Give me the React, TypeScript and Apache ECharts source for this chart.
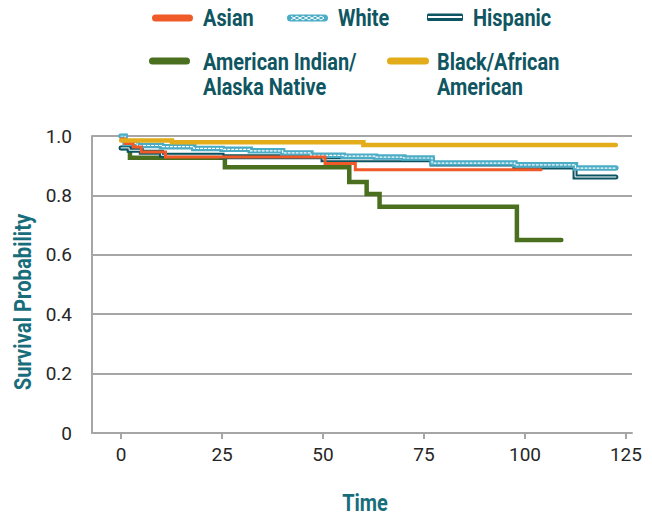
import React, { useEffect, useRef } from "react";
import * as echarts from "echarts";

// ---- data (time, survival probability) ----
const asian: [number, number][] = [
  [0, 0.99], [1, 0.975], [3, 0.963], [5, 0.946], [11, 0.929], [50.5, 0.907], [58, 0.886], [104, 0.886],
];
const white: [number, number][] = [
  [0, 1.0], [1, 0.975], [4, 0.968], [10, 0.964], [18, 0.958], [25, 0.955], [32, 0.95], [40, 0.943],
  [47, 0.935], [55, 0.932], [63, 0.929], [70, 0.926], [77, 0.909], [97.5, 0.903], [112.5, 0.892], [122.5, 0.892],
];
const hispanic: [number, number][] = [
  [0, 0.96], [2, 0.952], [5, 0.945], [10, 0.935], [25, 0.93], [50, 0.92], [77, 0.906], [97.5, 0.896],
  [112.4, 0.862], [122.5, 0.862],
];
const aian: [number, number][] = [
  [0, 0.96], [2.2, 0.927], [25.7, 0.895], [56.5, 0.845], [60.8, 0.805], [64, 0.762], [98, 0.65], [109, 0.65],
];
const black: [number, number][] = [
  [0, 0.985], [12.6, 0.979], [60, 0.97], [122.5, 0.97],
];
const xTicks = [0, 25, 50, 75, 100, 125];

const C_ASIAN = "#f05a28";
const C_WHITE = "#4bacc6";
const C_HISP = "#0b5563";
const C_AIAN = "#4a6f1e";
const C_BLACK = "#e2ac1a";
const C_LEG = "#0f5662";
const C_TITLE = "#186d7b";
const C_GRID = "#a6a6a6";

const legendFont = "bold 24px Roboto";
const SX = 0.83;

function legText(text: string, x: number, y: number, multi = false) {
  return {
    type: "text",
    x,
    y,
    scaleX: SX,
    style: {
      text,
      font: legendFont,
      fill: C_LEG,
      lineHeight: 25,
      align: "left",
      textAlign: "left",
      verticalAlign: multi ? "top" : "middle",
      textVerticalAlign: multi ? "top" : "middle",
    },
  };
}

function zig(x0: number, x1: number, cy: number, amp: number, step: number) {
  const pts: number[][] = [];
  let up = true;
  for (let x = x0; x <= x1 + 0.01; x += step / 2) {
    pts.push([x, up ? cy : cy + amp]);
    up = !up;
  }
  return pts;
}

function stepLine(name: string, data: [number, number][], color: string, width: number, extra: any = {}) {
  return {
    name,
    type: "line",
    step: "end",
    data,
    symbol: "none",
    silent: true,
    lineStyle: { color, width, cap: "round", join: "miter", ...extra },
  };
}

export default function App() {
  const ref = useRef<HTMLDivElement>(null);
  useEffect(() => {
    const chart = echarts.init(ref.current!, null, { renderer: "svg" });
    const option: any = {
      animation: false,
      textStyle: { fontFamily: "Roboto" },
      grid: { left: 92, right: 20, top: 136, bottom: 83, containLabel: false },
      xAxis: {
        type: "value",
        min: -7.2,
        max: 126.5,
        axisLine: { show: true, onZero: false, lineStyle: { color: C_GRID, width: 2 } },
        axisTick: { show: true, customValues: xTicks, length: 6, lineStyle: { color: C_GRID, width: 2 } },
        axisLabel: { customValues: xTicks, margin: 12, fontSize: 19, color: "#262626", fontFamily: "Roboto" },
        splitLine: { show: false },
      },
      yAxis: {
        type: "value",
        min: 0,
        max: 1,
        interval: 0.2,
        axisLine: { show: true, onZero: false, lineStyle: { color: C_GRID, width: 2 } },
        axisTick: { show: false },
        axisLabel: {
          margin: 20,
          fontSize: 19,
          color: "#262626",
          fontFamily: "Roboto",
          formatter: (v: number) => (v === 0 ? "0" : v.toFixed(1)),
        },
        splitLine: { show: true, lineStyle: { color: C_GRID, width: 2 } },
      },
      series: [
        stepLine("American Indian/Alaska Native", aian, C_AIAN, 4.5),
        stepLine("Hispanic", hispanic, C_HISP, 5),
        stepLine("Hispanic inner", hispanic, "#ffffff", 1),
        stepLine("White", white, C_WHITE, 5.5),
        stepLine("White pattern", white, "#ffffff", 1.2, { type: [2, 2] }),
        stepLine("Asian", asian, C_ASIAN, 3),
        stepLine("Black/African American", black, C_BLACK, 4.5),
      ],
      graphic: [
        // legend icons
        { type: "rect", shape: { x: 152, y: 14.5, width: 41, height: 7, r: 3.5 }, style: { fill: C_ASIAN } },
        { type: "rect", shape: { x: 287, y: 14.5, width: 41, height: 7, r: 3.5 }, style: { fill: C_WHITE } },
        { type: "polyline", shape: { points: zig(291, 324, 16, 2, 6) }, style: { stroke: "#fff", lineWidth: 1, fill: null } },
        { type: "polyline", shape: { points: zig(291, 324, 20, -2, 6) }, style: { stroke: "#fff", lineWidth: 1, fill: null } },
        { type: "rect", shape: { x: 427, y: 13.5, width: 36, height: 7.5, r: 1.5 }, style: { fill: C_HISP } },
        { type: "line", shape: { x1: 428, y1: 17, x2: 462, y2: 17 }, style: { stroke: "#fff", lineWidth: 2.2 } },
        { type: "rect", shape: { x: 149, y: 57.5, width: 41, height: 7, r: 3.5 }, style: { fill: C_AIAN } },
        { type: "rect", shape: { x: 387, y: 57.5, width: 42, height: 7, r: 3.5 }, style: { fill: C_BLACK } },
        // legend texts
        legText("Asian", 203, 18),
        legText("White", 338, 18),
        legText("Hispanic", 473, 18),
        legText("American Indian/\nAlaska Native", 203, 49.5, true),
        legText("Black/African\nAmerican", 437, 49.5, true),
        // axis titles
        {
          type: "text",
          x: 365,
          y: 503,
          scaleX: SX,
          style: { text: "Time", font: legendFont, fill: C_TITLE, align: "center", textAlign: "center", verticalAlign: "middle", textVerticalAlign: "middle" },
        },
        {
          type: "text",
          x: 23,
          y: 302,
          rotation: Math.PI / 2,
          scaleX: 0.88,
          style: { text: "Survival Probability", font: "bold 23px Roboto", fill: C_TITLE, align: "center", textAlign: "center", verticalAlign: "middle", textVerticalAlign: "middle" },
        },
      ],
    };
    chart.setOption(option);
    return () => chart.dispose();
  }, []);
  return <div ref={ref} style={{ position: "absolute", left: 0, top: 0, width: 652, height: 516 }} />;
}
